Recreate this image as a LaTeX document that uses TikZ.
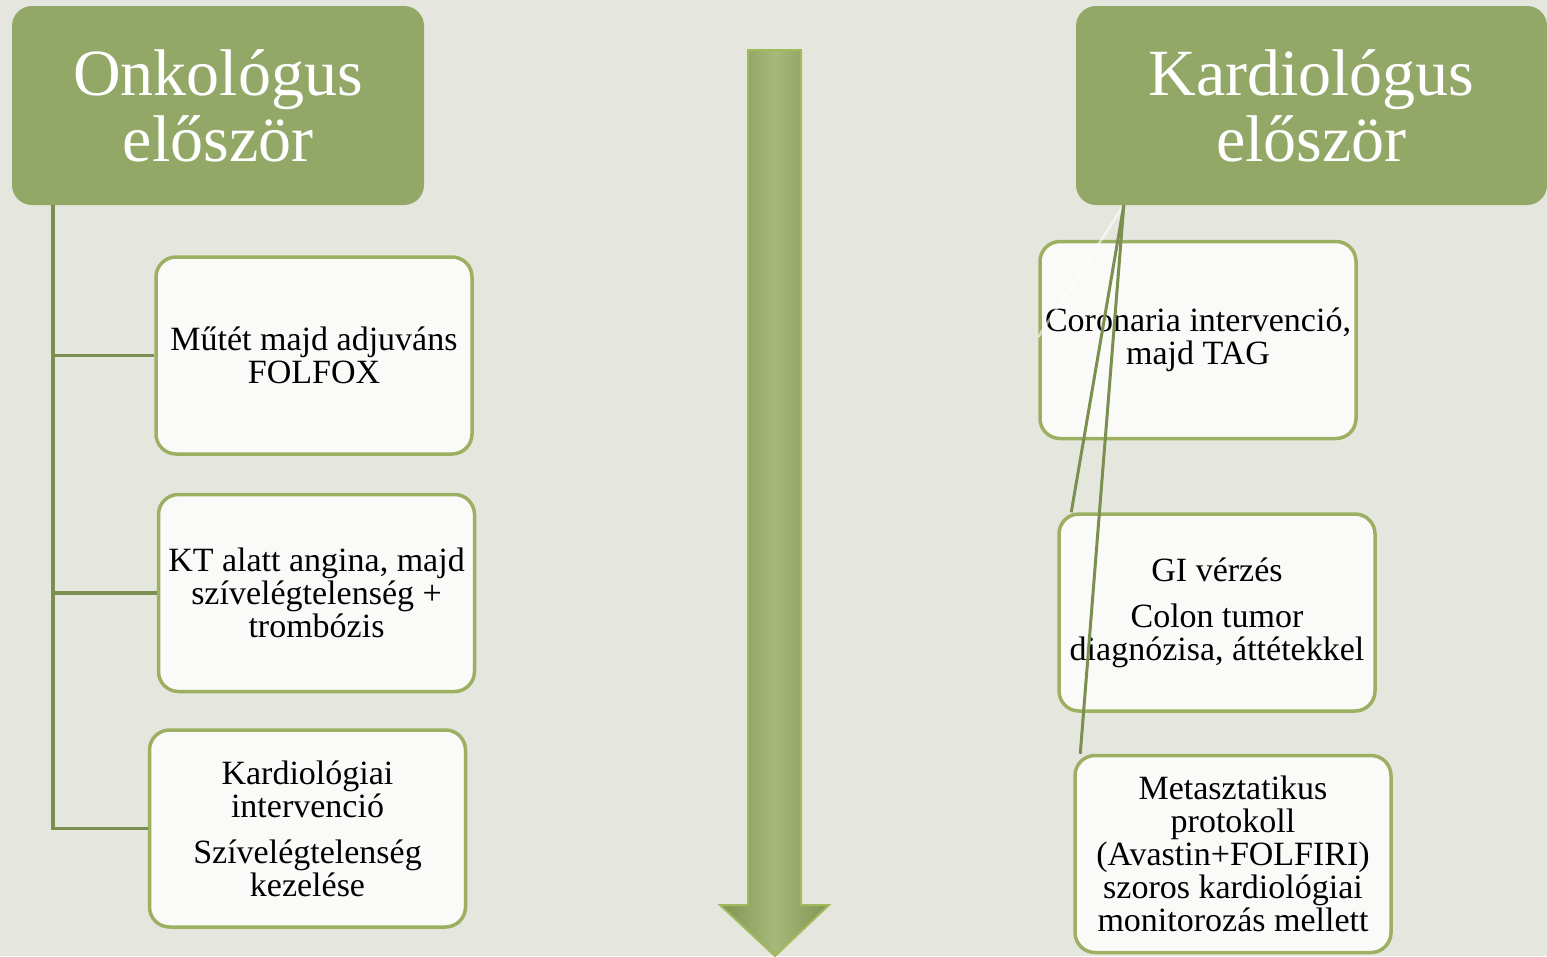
\documentclass[tikz,border=0pt]{standalone}
\usepackage{fontspec}
\setmainfont{Liberation Serif}
\usetikzlibrary{positioning}

\definecolor{paper}{HTML}{E5E7DE}
\definecolor{headgreen}{HTML}{93A766}
\definecolor{cardedge}{HTML}{9DB062}
\definecolor{cardfill}{HTML}{FAFAF8}
\definecolor{linegreen}{HTML}{7B9050}
\definecolor{arrowfill}{HTML}{98AD62}
\definecolor{arrowedge}{HTML}{A2BA5C}

\tikzset{
	head/.style={rounded corners=20pt, fill=headgreen, text=white, align=center,
		font=\fontsize{66}{66}\selectfont, minimum height=199pt, inner sep=0pt},
	card/.style={rounded corners=20pt, draw=cardedge, line width=3.5pt, fill=cardfill,
		align=center, font=\fontsize{34}{33}\selectfont,
		minimum width=316pt, minimum height=197pt, inner sep=2pt},
	branch/.style={draw=linegreen, line width=3.5pt},
	faint/.style={draw=white, opacity=.6, line width=2.5pt}
}

\begin{document}
\begin{tikzpicture}[x=1pt, y=-1pt]

	\fill[paper] (0,0) rectangle (1547,956);
	\useasboundingbox (0,0) rectangle (1547,956);

	% headers
	\node[head, minimum width=412pt] (onko) at (218,105.5) {Onkológus\\először};
	\node[head, minimum width=471pt] (kardio) at (1311.5,105.5) {Kardiológus\\először};

	% middle arrow
	\shade[left color=arrowfill!85!black, right color=arrowfill!85!black, middle color=arrowfill!85!white]
	(748,50) -- (801,50) -- (801,905) -- (829,905) -- (775,956) -- (720,905) -- (748,905) -- cycle;
	\draw[arrowedge, line width=2pt]
	(748,50) -- (801,50) -- (801,905) -- (829,905) -- (775,956) -- (720,905) -- (748,905) -- cycle;

	% left column
	\node[card] (o1) at (314,355.5) {Műtét majd adjuváns\\FOLFOX};
	\node[card, below=37pt of o1, xshift=2.5pt] (o2) {KT alatt angina, majd\\szívelégtelenség +\\trombózis};
	\node[card, below=35pt of o2, xshift=-9pt] (o3) {Kardiológiai\\intervenció\\[13pt]Szívelégtelenség\\kezelése};

	\coordinate (oroot) at ([xshift=41pt]onko.south west);
	\draw[branch] (oroot) |- (o3.west);
	\draw[branch] (oroot |- o1.west) -- (o1.west);
	\draw[branch] (oroot |- o2.west) -- (o2.west);

	% right column
	\node[card] (k1) at (1198,340) {Coronaria intervenció,\\majd TAG};
	\node[card, below=72pt of k1, xshift=19pt] (k2) {GI vérzés\\[13pt]Colon tumor\\diagnózisa, áttétekkel};
	\node[card, below=41pt of k2, xshift=16pt] (k3) {Metasztatikus\\protokoll\\(Avastin+FOLFIRI)\\szoros kardiológiai\\monitorozás mellett};

	\coordinate (kroot) at ([xshift=48pt]kardio.south west);
	\draw[faint] (kroot) -- ([yshift=3pt]k1.west);
	\draw[branch, line width=3pt] (kroot) -- ([xshift=14pt]k2.north west);
	\draw[branch, line width=3pt] (kroot) -- ([xshift=7pt]k3.north west);

\end{tikzpicture}
\end{document}
